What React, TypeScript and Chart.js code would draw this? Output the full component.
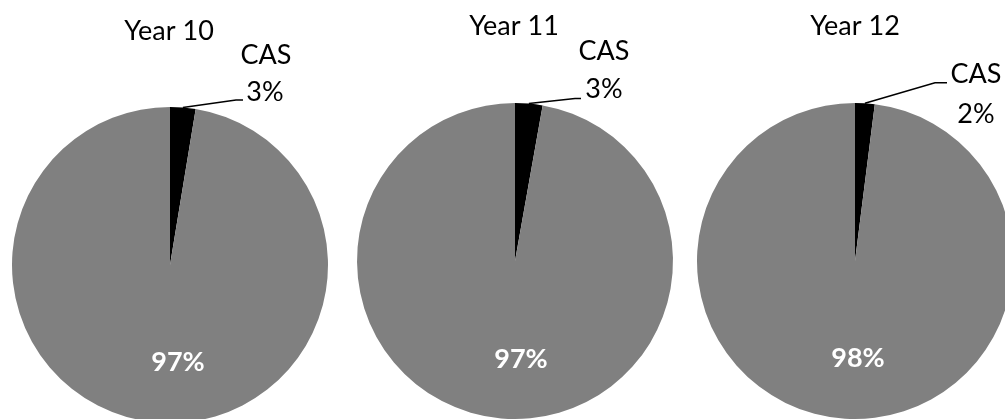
import React, { useEffect, useRef } from "react";
import { Chart, registerables } from "chart.js";

Chart.register(...registerables);

// ---- data ----
const categories = ["CAS", "Other"];
const years = ["Year 10", "Year 11", "Year 12"];
const casValues = [2.6, 2.8, 2.0];
const otherValues = [97.4, 97.2, 98.0];
const sliceColors = ["#000000", "#808080"];

// ---- layout ----
const CW = 1030;
const CH = 440;
const FONT = "Lato, 'Open Sans', sans-serif";
const FONT_SIZE = 27;

type Layout = {
  cx: number;
  cy: number;
  r: number;
  title: [number, number];
  cas: [number, number];
  pct: [number, number];
  elbow: [number, number];
  lineEnd: [number, number];
  inner: [number, number];
};

const layouts: Layout[] = [
  { cx: 170, cy: 265, r: 158, title: [169, 39.5], cas: [266, 64], pct: [265, 101], elbow: [236, 100], lineEnd: [243, 100], inner: [178, 371] },
  { cx: 515, cy: 261, r: 158, title: [514, 35], cas: [604, 60], pct: [604, 98], elbow: [575, 98.5], lineEnd: [581, 98.5], inner: [521, 368] },
  { cx: 855, cy: 261, r: 158, title: [855, 35], cas: [976, 83], pct: [976, 123], elbow: [935, 82.7], lineEnd: [947, 82.7], inner: [858, 367] },
];

function PieChart({ index }: { index: number }) {
  const ref = useRef<HTMLCanvasElement | null>(null);
  useEffect(() => {
    const L = layouts[index];
    const values = [casValues[index], otherValues[index]];
    const total = values[0] + values[1];
    const labelPlugin = {
      id: "labels" + index,
      afterDraw(chart: any) {
        const ctx = chart.ctx as CanvasRenderingContext2D;
        const meta = chart.getDatasetMeta(0);
        const arc = meta.data[0];
        const p = arc.getProps(["x", "y", "startAngle", "endAngle", "outerRadius"], true);
        const mid = (p.startAngle + p.endAngle) / 2;
        const sx = p.x + Math.cos(mid) * p.outerRadius;
        const sy = p.y + Math.sin(mid) * p.outerRadius;
        ctx.save();
        // leader line
        ctx.strokeStyle = "#000";
        ctx.lineWidth = 1.5;
        ctx.beginPath();
        ctx.moveTo(sx, sy);
        ctx.lineTo(L.elbow[0], L.elbow[1]);
        ctx.lineTo(L.lineEnd[0], L.lineEnd[1]);
        ctx.stroke();
        // texts
        ctx.textAlign = "center";
        ctx.textBaseline = "alphabetic";
        ctx.fillStyle = "#000";
        ctx.font = `${FONT_SIZE}px ${FONT}`;
        ctx.fillText(years[index], L.title[0], L.title[1]);
        ctx.fillText(categories[0], L.cas[0], L.cas[1]);
        ctx.fillText(Math.round((values[0] / total) * 100) + "%", L.pct[0], L.pct[1]);
        ctx.fillStyle = "#ffffff";
        ctx.font = `bold ${FONT_SIZE}px ${FONT}`;
        ctx.fillText(Math.round((values[1] / total) * 100) + "%", L.inner[0], L.inner[1]);
        ctx.restore();
      },
    };
    const chart = new Chart(ref.current as HTMLCanvasElement, {
      type: "pie",
      data: {
        labels: categories,
        datasets: [
          {
            data: values,
            backgroundColor: sliceColors,
            borderWidth: 0,
          },
        ],
      },
      options: {
        responsive: false,
        animation: false,
        events: [],
        devicePixelRatio: 1,
        layout: {
          padding: {
            left: L.cx - L.r,
            right: CW - (L.cx + L.r),
            top: L.cy - L.r,
            bottom: CH - (L.cy + L.r),
          },
        },
        plugins: {
          legend: { display: false },
          tooltip: { enabled: false },
          title: { display: false },
        },
      },
      plugins: [labelPlugin],
    });
    return () => chart.destroy();
  }, [index]);
  return (
    <canvas
      ref={ref}
      width={CW}
      height={CH}
      style={{ position: "absolute", left: 0, top: 0, width: CW, height: CH }}
    />
  );
}

export default function App() {
  return (
    <div
      style={{
        position: "absolute",
        left: 0,
        top: 0,
        width: 1005,
        height: 419,
        overflow: "hidden",
        background: "#ffffff",
      }}
    >
      {years.map((_, i) => (
        <PieChart key={i} index={i} />
      ))}
    </div>
  );
}
